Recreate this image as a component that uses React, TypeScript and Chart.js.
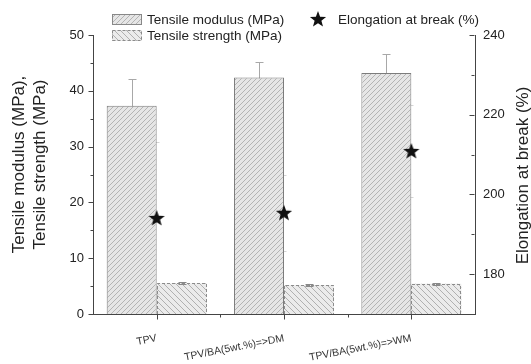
import { useEffect, useRef } from 'react';
import { Chart, registerables } from 'chart.js';

Chart.register(...registerables);

const categories = ['TPV', 'TPV/BA(5wt.%)=>DM', 'TPV/BA(5wt.%)=>WM'];
const tensileModulus = [37.3, 42.4, 43.2];
const tensileModulusErr = [4.8, 2.8, 3.4];
const tensileStrength = [5.5, 5.2, 5.4];
const tensileStrengthErr = [0.15, 0.15, 0.15];
const elongation = [194.1, 195.4, 210.9];
const elongationErr = [19, 9.6, 11.5];
const leftMinorTicks = [5, 15, 25, 35, 45];
const rightTickValues = [180, 200, 220, 240];
const rightMinorTicks = [190, 210, 230];
const leftTitle = ['Tensile modulus (MPa),', 'Tensile strength (MPa)'];
const rightTitle = 'Elongation at break (%)';

const FONT = "'Liberation Sans', Arial, Helvetica, sans-serif";

function makeHatch(dir: number, spacing: number, bg: string, fg: string) {
  const c = document.createElement('canvas');
  c.width = spacing;
  c.height = spacing;
  const g = c.getContext('2d')!;
  g.fillStyle = bg;
  g.fillRect(0, 0, spacing, spacing);
  g.strokeStyle = fg;
  g.lineWidth = 1;
  g.beginPath();
  for (const o of [-spacing, 0, spacing]) {
    if (dir > 0) {
      g.moveTo(o, spacing);
      g.lineTo(o + spacing, 0);
    } else {
      g.moveTo(o, 0);
      g.lineTo(o + spacing, spacing);
    }
  }
  g.stroke();
  return g.createPattern(c, 'repeat')!;
}

function makeStar(size: number) {
  const c = document.createElement('canvas');
  c.width = size;
  c.height = size;
  const g = c.getContext('2d')!;
  const cx = size / 2;
  const cy = size / 2 + 0.6;
  const ro = size / 2 - 0.5;
  const ri = ro * 0.42;
  g.beginPath();
  for (let i = 0; i < 10; i++) {
    const r = i % 2 === 0 ? ro : ri;
    const a = -Math.PI / 2 + (i * Math.PI) / 5;
    const px = cx + r * Math.cos(a);
    const py = cy + r * Math.sin(a);
    if (i === 0) g.moveTo(px, py);
    else g.lineTo(px, py);
  }
  g.closePath();
  g.fillStyle = '#111';
  g.fill();
  return c;
}

export default function App() {
  const ref = useRef<HTMLCanvasElement | null>(null);

  useEffect(() => {
    const canvas = ref.current;
    if (!canvas) return;
    const hatchA = makeHatch(1, 5, '#e6e6e6', '#b4b4b4');
    const hatchB = makeHatch(-1, 6, '#ebebeb', '#b0b0b0');
    const star = makeStar(18);

    const drawErr = (ctx: CanvasRenderingContext2D, chart: any, metaIndex: number, vals: number[], errs: number[], scale: any, color: string, cap: number, stem: boolean) => {
      const meta = chart.getDatasetMeta(metaIndex);
      ctx.save();
      ctx.strokeStyle = color;
      ctx.lineWidth = 1;
      meta.data.forEach((el: any, i: number) => {
        const cx = Math.round(el.x) + 0.5;
        const top = Math.round(scale.getPixelForValue(vals[i] + errs[i])) + 0.5;
        const bot = Math.round(scale.getPixelForValue(vals[i] - errs[i])) + 0.5;
        ctx.beginPath();
        if (stem) {
          ctx.moveTo(cx, top);
          ctx.lineTo(cx, bot);
        }
        ctx.moveTo(cx - cap, top);
        ctx.lineTo(cx + cap, top);
        ctx.moveTo(cx - cap, bot);
        ctx.lineTo(cx + cap, bot);
        ctx.stroke();
      });
      ctx.restore();
    };

    const decor = {
      id: 'decor',
      afterDatasetDraw(chart: any, args: any) {
        const ctx = chart.ctx as CanvasRenderingContext2D;
        if (args.index === 1) {
          const meta = chart.getDatasetMeta(1);
          ctx.save();
          ctx.strokeStyle = '#8c8c8c';
          ctx.lineWidth = 1;
          ctx.setLineDash([3, 2]);
          meta.data.forEach((el: any) => {
            const l = Math.round(el.x - el.width / 2) + 0.5;
            const r = Math.round(el.x + el.width / 2) - 0.5;
            const t = Math.round(el.y) + 0.5;
            const b = el.base;
            ctx.beginPath();
            ctx.moveTo(l, b);
            ctx.lineTo(l, t);
            ctx.lineTo(r, t);
            ctx.lineTo(r, b);
            ctx.stroke();
          });
          ctx.restore();
          drawErr(ctx, chart, 0, tensileModulus, tensileModulusErr, chart.scales.y, '#a8a8a8', 4, true);
          drawErr(ctx, chart, 1, tensileStrength, tensileStrengthErr, chart.scales.y, '#888', 4, true);
          drawErr(ctx, chart, 2, elongation, elongationErr, chart.scales.y1, '#d4d4d4', 2, false);
        }
      },
      afterDraw(chart: any) {
        const ctx = chart.ctx as CanvasRenderingContext2D;
        const { x, y, y1 } = chart.scales;
        const area = chart.chartArea;
        ctx.save();
        ctx.strokeStyle = '#444';
        ctx.lineWidth = 1;
        ctx.beginPath();
        const lx = Math.round(area.left) + 0.5;
        y.ticks.forEach((t: any) => {
          const py = Math.round(y.getPixelForValue(t.value)) + 0.5;
          ctx.moveTo(lx - 5, py);
          ctx.lineTo(lx, py);
        });
        leftMinorTicks.forEach((v) => {
          const py = Math.round(y.getPixelForValue(v)) + 0.5;
          ctx.moveTo(lx - 3, py);
          ctx.lineTo(lx, py);
        });
        const rx = Math.round(area.right) - 0.5;
        y1.ticks.forEach((t: any) => {
          const py = Math.round(y1.getPixelForValue(t.value)) + 0.5;
          ctx.moveTo(rx - 5, py);
          ctx.lineTo(rx, py);
        });
        rightMinorTicks.forEach((v) => {
          const py = Math.round(y1.getPixelForValue(v)) + 0.5;
          ctx.moveTo(rx - 3, py);
          ctx.lineTo(rx, py);
        });
        const by = Math.round(area.bottom) + 0.5;
        categories.forEach((_, i) => {
          const px = Math.round(x.getPixelForValue(i)) + 0.5;
          ctx.moveTo(px, by);
          ctx.lineTo(px, by + 5);
          if (i < categories.length - 1) {
            const mx = Math.round((x.getPixelForValue(i) + x.getPixelForValue(i + 1)) / 2) + 0.5;
            ctx.moveTo(mx, by);
            ctx.lineTo(mx, by + 3);
          }
        });
        ctx.stroke();

        ctx.fillStyle = '#222';
        ctx.font = `17px ${FONT}`;
        ctx.textAlign = 'center';
        ctx.textBaseline = 'middle';
        const midY = (area.top + area.bottom) / 2;
        [19, 40].forEach((tx, i) => {
          ctx.save();
          ctx.translate(tx, midY - 10);
          ctx.rotate(-Math.PI / 2);
          ctx.fillText(leftTitle[i], 0, 0);
          ctx.restore();
        });
        ctx.save();
        ctx.translate(523, midY + 1);
        ctx.rotate(-Math.PI / 2);
        ctx.fillText(rightTitle, 0, 0);
        ctx.restore();

        const ds = chart.data.datasets;
        ctx.font = `13.5px ${FONT}`;
        ctx.textAlign = 'left';
        const rows = [
          { bx: 112, cy: 19, ds: ds[0], dash: [] as number[], stroke: '#888' },
          { bx: 112, cy: 35, ds: ds[1], dash: [3, 2], stroke: '#8c8c8c' },
        ];
        rows.forEach((r) => {
          ctx.fillStyle = r.ds.backgroundColor;
          ctx.fillRect(r.bx, r.cy - 5, 30, 11);
          ctx.setLineDash(r.dash);
          ctx.strokeStyle = r.stroke;
          ctx.strokeRect(r.bx + 0.5, r.cy - 5 + 0.5, 29, 10);
          ctx.setLineDash([]);
          ctx.fillStyle = '#222';
          ctx.fillText(r.ds.label, r.bx + 35, r.cy + 1);
        });
        ctx.drawImage(star, 318 - 9, 19 - 9);
        ctx.fillStyle = '#222';
        ctx.fillText(ds[2].label, 338, 20);
        ctx.restore();
      },
    };

    const chart = new Chart(canvas, {
      type: 'bar',
      data: {
        labels: categories,
        datasets: [
          {
            type: 'bar',
            label: 'Tensile modulus (MPa)',
            data: tensileModulus,
            yAxisID: 'y',
            backgroundColor: hatchA as any,
            borderColor: '#7c7c7c',
            borderWidth: 1,
            categoryPercentage: 0.785,
            barPercentage: 1,
            order: 2,
          },
          {
            type: 'bar',
            label: 'Tensile strength (MPa)',
            data: tensileStrength,
            yAxisID: 'y',
            backgroundColor: hatchB as any,
            borderWidth: 0,
            categoryPercentage: 0.785,
            barPercentage: 1,
            order: 2,
          },
          {
            type: 'line',
            label: 'Elongation at break (%)',
            data: elongation,
            yAxisID: 'y1',
            showLine: false,
            pointStyle: star as any,
            pointRadius: 9,
            order: 1,
          },
        ] as any,
      },
      plugins: [decor],
      options: {
        responsive: false,
        animation: false,
        devicePixelRatio: 1,
        layout: { padding: { top: 35, left: 0, right: 0, bottom: 0 } },
        plugins: {
          legend: { display: false },
          tooltip: { enabled: false },
          title: { display: false },
        },
        scales: {
          x: {
            type: 'category',
            offset: true,
            grid: { display: false, drawTicks: false },
            border: { display: true, color: '#444', width: 1 },
            ticks: {
              color: '#333',
              font: { size: 10.5, family: FONT },
              minRotation: 11,
              maxRotation: 11,
              autoSkip: false,
              padding: 18,
            },
            afterFit(s: any) {
              s.height = 50;
            },
          },
          y: {
            position: 'left',
            min: 0,
            max: 50,
            grid: { display: false, drawTicks: false },
            border: { display: true, color: '#444', width: 1 },
            ticks: { stepSize: 10, color: '#222', font: { size: 13, family: FONT }, padding: 9 },
            afterFit(s: any) {
              s.width = 93;
            },
          },
          y1: {
            position: 'right',
            min: 170,
            max: 240,
            grid: { display: false, drawTicks: false },
            border: { display: true, color: '#444', width: 1 },
            afterBuildTicks(s: any) {
              s.ticks = rightTickValues.map((v) => ({ value: v }));
            },
            ticks: { color: '#222', font: { size: 13, family: FONT }, padding: 8 },
            afterFit(s: any) {
              s.width = 56;
            },
          },
        } as any,
      },
    });
    return () => chart.destroy();
  }, []);

  return (
    <div style={{ position: 'fixed', left: 0, top: 0, width: 531, height: 364, background: '#fff' }}>
      <canvas ref={ref} width={531} height={364} style={{ display: 'block' }} />
    </div>
  );
}
